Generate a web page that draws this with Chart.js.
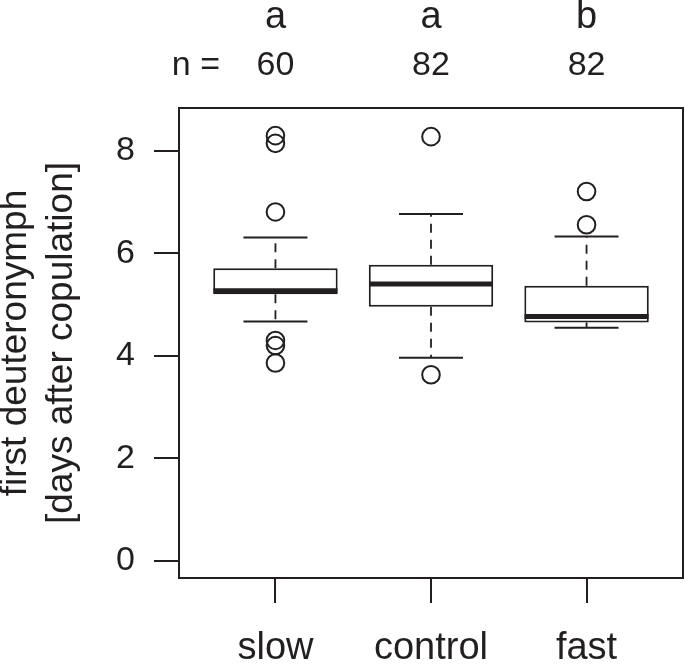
<!DOCTYPE html>
<html>
<head>
<meta charset="utf-8">
<script src="https://cdn.jsdelivr.net/npm/chart.js@4.4.0/dist/chart.umd.min.js"></script>
<style>
    html, body { margin: 0; padding: 0; background: #fff; }
    #chart { display: block; }
</style>
</head>
<body>
<canvas id="chart" width="685" height="664"></canvas>
<script>
// groups and the labels above them
const groups = ['slow', 'control', 'fast'];
const letters = ['a', 'a', 'b'];
const counts = [60, 82, 82];

// box plot statistics, days after copulation
const lowerWhisker = [4.67, 3.96, 4.55];
const lowerQuartile = [5.20, 4.96, 4.65];
const medians = [5.27, 5.40, 4.77];
const upperQuartile = [5.71, 5.78, 5.37];
const upperWhisker = [6.31, 6.77, 6.33];
const outliers = [
    [8.30, 8.15, 6.81, 4.30, 4.20, 3.86],
    [8.28, 3.63],
    [7.21, 6.56]
];

const yTicks = [0, 2, 4, 6, 8];

const ink = '#231f20';
const fontFamily = '"Liberation Sans", Arial, Helvetica, sans-serif';
const positions = groups.map((g, i) => i + 1);

// dashed whiskers: q3 -> upper, q1 -> lower, null breaks the line
const whiskerData = [];
positions.forEach((x, i) => {
    whiskerData.push({x: x, y: upperQuartile[i]}, {x: x, y: upperWhisker[i]}, {x: x, y: null});
    whiskerData.push({x: x, y: lowerQuartile[i]}, {x: x, y: lowerWhisker[i]}, {x: x, y: null});
});

const stapleData = [];
positions.forEach((x, i) => {
    stapleData.push({x: x, y: upperWhisker[i]}, {x: x, y: lowerWhisker[i]});
});

const outlierData = [];
positions.forEach((x, i) => {
    outliers[i].forEach(v => outlierData.push({x: x, y: v}));
});

// frame around the plot plus the letters and n = row on top
const annotations = {
    id: 'annotations',
    afterDraw(chart) {
        const {ctx, chartArea, scales} = chart;
        const xs = scales.x;
        ctx.save();
        ctx.strokeStyle = ink;
        ctx.lineWidth = 2;
        ctx.strokeRect(chartArea.left, chartArea.top,
            chartArea.right - chartArea.left, chartArea.bottom - chartArea.top);

        ctx.fillStyle = ink;
        ctx.textBaseline = 'alphabetic';
        ctx.textAlign = 'center';
        ctx.font = '38px ' + fontFamily;
        letters.forEach((l, i) => ctx.fillText(l, xs.getPixelForValue(positions[i]), 28));
        ctx.font = '34px ' + fontFamily;
        counts.forEach((n, i) => ctx.fillText(String(n), xs.getPixelForValue(positions[i]), 75));
        ctx.textAlign = 'right';
        ctx.fillText('n =', chartArea.left + 41, 75);
        ctx.restore();
    }
};

new Chart(document.getElementById('chart'), {
    type: 'bar',
    data: {
        datasets: [
            {
                type: 'line',
                data: whiskerData,
                borderColor: ink,
                borderWidth: 1.8,
                borderDash: [9, 7],
                pointRadius: 0,
                spanGaps: false,
                order: 3
            },
            {
                type: 'bar',
                data: positions.map((x, i) => ({x: x, y: [lowerQuartile[i], upperQuartile[i]]})),
                backgroundColor: '#ffffff',
                borderColor: ink,
                borderWidth: 2,
                borderSkipped: false,
                categoryPercentage: 1,
                barPercentage: 0.8,
                order: 2
            },
            {
                type: 'scatter',
                data: positions.map((x, i) => ({x: x, y: medians[i]})),
                pointStyle: 'line',
                pointRadius: 62,
                pointBorderColor: ink,
                pointBorderWidth: 5,
                order: 1
            },
            {
                type: 'scatter',
                data: stapleData,
                pointStyle: 'line',
                pointRadius: 32,
                pointBorderColor: ink,
                pointBorderWidth: 2,
                order: 1
            },
            {
                type: 'scatter',
                data: outlierData,
                pointStyle: 'circle',
                pointRadius: 8.8,
                pointBackgroundColor: 'rgba(0,0,0,0)',
                pointBorderColor: ink,
                pointBorderWidth: 2,
                order: 1
            }
        ]
    },
    options: {
        responsive: false,
        animation: false,
        events: [],
        layout: {
            autoPadding: false,
            padding: {top: 108, right: 2, left: 0, bottom: 0}
        },
        plugins: {
            legend: {display: false},
            tooltip: {enabled: false}
        },
        scales: {
            x: {
                type: 'linear',
                min: 0.38,
                max: 3.62,
                offset: false,
                afterBuildTicks: function(scale) {
                    scale.ticks = positions.map(v => ({value: v}));
                },
                afterFit: function(scale) {
                    scale.height = 86;
                    scale.paddingLeft = 0;
                    scale.paddingRight = 0;
                },
                grid: {
                    offset: false,
                    drawOnChartArea: false,
                    drawTicks: true,
                    tickLength: 25,
                    color: ink,
                    lineWidth: 2
                },
                border: {display: false},
                ticks: {
                    autoSkip: false,
                    maxRotation: 0,
                    padding: 23,
                    color: ink,
                    font: {family: fontFamily, size: 38},
                    callback: function(value) {
                        return groups[value - 1];
                    }
                }
            },
            y: {
                type: 'linear',
                min: -0.34,
                max: 8.84,
                afterBuildTicks: function(scale) {
                    scale.ticks = yTicks.map(v => ({value: v}));
                },
                afterFit: function(scale) {
                    scale.width = 179;
                    scale.paddingTop = 0;
                    scale.paddingBottom = 0;
                },
                grid: {
                    drawOnChartArea: false,
                    drawTicks: true,
                    tickLength: 25,
                    color: ink,
                    lineWidth: 2
                },
                border: {display: false},
                ticks: {
                    padding: 19,
                    color: ink,
                    font: {family: fontFamily, size: 34}
                },
                title: {
                    display: true,
                    text: ['first deuteronymph', '[days after copulation]'],
                    color: ink,
                    font: {family: fontFamily, size: 37, lineHeight: 1.24},
                    padding: {top: -7.5, bottom: 0}
                }
            }
        }
    },
    plugins: [annotations]
});
</script>
</body>
</html>
